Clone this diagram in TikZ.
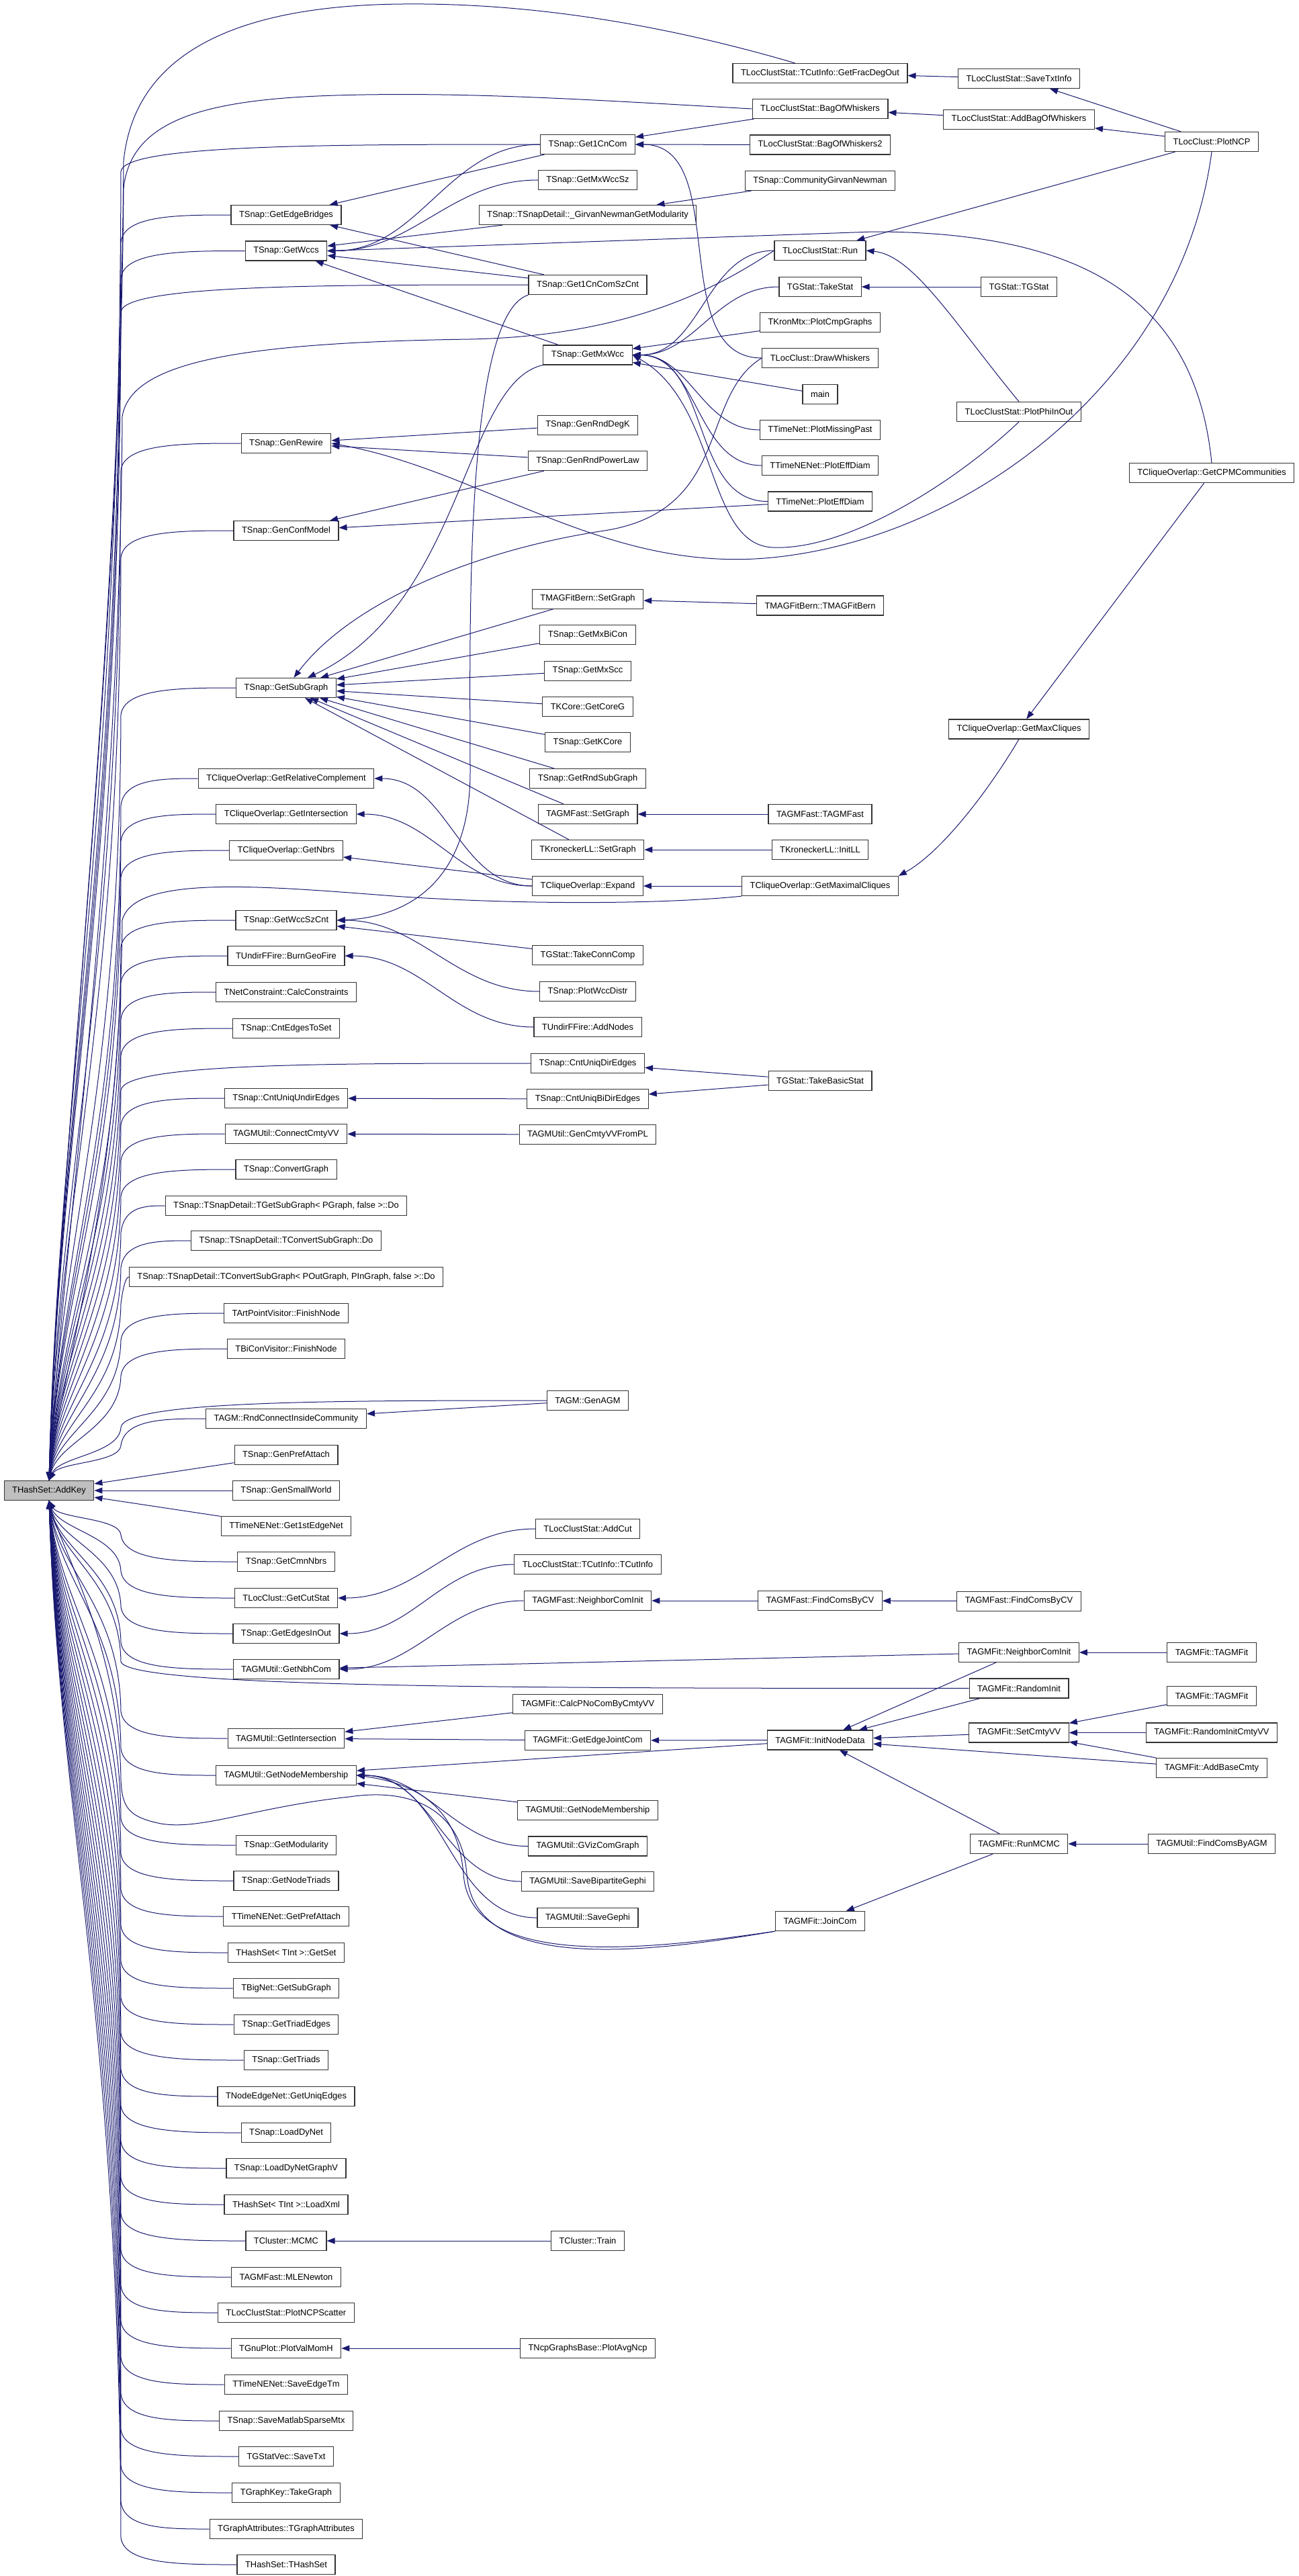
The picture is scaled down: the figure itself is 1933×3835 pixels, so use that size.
\documentclass[tikz,border=0pt]{standalone}
\usepackage{fontspec}
\setsansfont{Liberation Sans}
\usetikzlibrary{arrows.meta, calc}
\definecolor{callblue}{HTML}{191970}
\definecolor{rootgrey}{HTML}{BFBFBF}

\begin{document}
\begin{tikzpicture}[
    x=1pt, y=-1pt,
    font=\sffamily\fontsize{12.9}{14}\selectfont,
    fn/.style={
        draw=black!80,
        line width=1.2pt,
        fill=white,
        minimum height=29pt,
        inner xsep=12pt,
        inner ysep=0pt
    },
    rootfn/.style={fn, fill=rootgrey},
    call/.style={draw=callblue, line width=1pt, -{Triangle[length=12pt, width=9pt]}},
    fromabove/.style={to path={let \p1=(\tikztostart), \p2=(\tikztotarget) in
        .. controls ({0.5*\x1+95pt},\y1) and (185pt,\y1) .. (180pt,{\y1-40pt})
        .. controls (178pt,{0.5*\y1+0.5*\y2-20pt}) and ({\x2+15pt},{\y2+0.3*(\y1-\y2)}) .. (\tikztotarget) \tikztonodes}},
    frombelow/.style={to path={let \p1=(\tikztostart), \p2=(\tikztotarget) in
        .. controls ({0.5*\x1+95pt},\y1) and (185pt,\y1) .. (180pt,{\y1+40pt})
        .. controls (178pt,{0.5*\y1+0.5*\y2+20pt}) and ({\x2+15pt},{\y2+0.3*(\y1-\y2)}) .. (\tikztotarget) \tikztonodes}}
]
\useasboundingbox (0,0) rectangle (1933,3835);

% Root
\node[rootfn] (AddKey) at (73,2219) {THashSet::AddKey};

% Column 1
\node[fn] (EdgeBridges) at (426,320) {TSnap::GetEdgeBridges};
\node[fn] (Wccs) at (426,373.5) {TSnap::GetWccs};
\node[fn] (GenRewire) at (426,660) {TSnap::GenRewire};
\node[fn] (GenConfModel) at (426,790) {TSnap::GenConfModel};
\node[fn] (GetSubGraph) at (426,1024) {TSnap::GetSubGraph};
\node[fn] (RelComp) at (426,1159) {TCliqueOverlap::GetRelativeComplement};
\node[fn] (CliqueIsect) at (426,1212) {TCliqueOverlap::GetIntersection};
\node[fn] (CliqueNbrs) at (426,1266) {TCliqueOverlap::GetNbrs};
\node[fn] (WccSzCnt) at (426,1370) {TSnap::GetWccSzCnt};
\node[fn] (BurnGeoFire) at (426,1423) {TUndirFFire::BurnGeoFire};
\node[fn] (CalcConstr) at (426,1477) {TNetConstraint::CalcConstraints};
\node[fn] (CntEdgesToSet) at (426,1531) {TSnap::CntEdgesToSet};
\node[fn] (CntUniqUndir) at (426,1635) {TSnap::CntUniqUndirEdges};
\node[fn] (ConnectCmty) at (426,1688) {TAGMUtil::ConnectCmtyVV};
\node[fn] (ConvertGraph) at (426,1741) {TSnap::ConvertGraph};
\node[fn] (GetSubDo) at (426,1795) {TSnap::TSnapDetail::TGetSubGraph< PGraph, false >::Do};
\node[fn] (ConvDo) at (426,1847) {TSnap::TSnapDetail::TConvertSubGraph::Do};
\node[fn] (ConvDoPIn) at (426,1901) {TSnap::TSnapDetail::TConvertSubGraph< POutGraph, PInGraph, false >::Do};
\node[fn] (ArtPoint) at (426,1955) {TArtPointVisitor::FinishNode};
\node[fn] (BiCon) at (426,2008) {TBiConVisitor::FinishNode};
\node[fn] (RndConnect) at (426,2112) {TAGM::RndConnectInsideCommunity};
\node[fn] (GenPrefAttach) at (426,2166) {TSnap::GenPrefAttach};
\node[fn] (GenSmallWorld) at (426,2219) {TSnap::GenSmallWorld};
\node[fn] (FirstEdgeNet) at (426,2272) {TTimeNENet::Get1stEdgeNet};
\node[fn] (CmnNbrs) at (426,2325) {TSnap::GetCmnNbrs};
\node[fn] (CutStat) at (426,2379) {TLocClust::GetCutStat};
\node[fn] (EdgesInOut) at (426,2432) {TSnap::GetEdgesInOut};
\node[fn] (NbhCom) at (426,2485) {TAGMUtil::GetNbhCom};
\node[fn] (AgmIsect) at (426,2588) {TAGMUtil::GetIntersection};
\node[fn] (NodeMemb) at (426,2643) {TAGMUtil::GetNodeMembership};
\node[fn] (Modularity) at (426,2747) {TSnap::GetModularity};
\node[fn] (NodeTriads) at (426,2800) {TSnap::GetNodeTriads};
\node[fn] (TnPrefAttach) at (426,2853) {TTimeNENet::GetPrefAttach};
\node[fn] (GetSet) at (426,2907) {THashSet< TInt >::GetSet};
\node[fn] (BigNetSub) at (426,2960) {TBigNet::GetSubGraph};
\node[fn] (TriadEdges) at (426,3014) {TSnap::GetTriadEdges};
\node[fn] (Triads) at (426,3067) {TSnap::GetTriads};
\node[fn] (UniqEdges) at (426,3121) {TNodeEdgeNet::GetUniqEdges};
\node[fn] (LoadDyNet) at (426,3175) {TSnap::LoadDyNet};
\node[fn] (LoadDyNetGV) at (426,3228) {TSnap::LoadDyNetGraphV};
\node[fn] (LoadXml) at (426,3282) {THashSet< TInt >::LoadXml};
\node[fn] (McMc) at (426,3336) {TCluster::MCMC};
\node[fn] (MleNewton) at (426,3390) {TAGMFast::MLENewton};
\node[fn] (NcpScatter) at (426,3443) {TLocClustStat::PlotNCPScatter};
\node[fn] (ValMomH) at (426,3496) {TGnuPlot::PlotValMomH};
\node[fn] (SaveEdgeTm) at (426,3550) {TTimeNENet::SaveEdgeTm};
\node[fn] (SaveMatlab) at (426,3604) {TSnap::SaveMatlabSparseMtx};
\node[fn] (GStatVecSave) at (426,3657) {TGStatVec::SaveTxt};
\node[fn] (TakeGraph) at (426,3711) {TGraphKey::TakeGraph};
\node[fn] (GraphAttr) at (426,3765) {TGraphAttributes::TGraphAttributes};
\node[fn] (HashSetCtor) at (426,3818) {THashSet::THashSet};

% Column 2
\node[fn] (Get1CnCom) at (875,215) {TSnap::Get1CnCom};
\node[fn] (MxWccSz) at (875,268) {TSnap::GetMxWccSz};
\node[fn] (GnMod) at (875,320) {TSnap::TSnapDetail::\_GirvanNewmanGetModularity};
\node[fn] (Get1CnSzCnt) at (875,424) {TSnap::Get1CnComSzCnt};
\node[fn] (MxWcc) at (875,528.5) {TSnap::GetMxWcc};
\node[fn] (RndDegK) at (875,632.6) {TSnap::GenRndDegK};
\node[fn] (RndPowerLaw) at (875,686) {TSnap::GenRndPowerLaw};
\node[fn] (MagSetGraph) at (875,891.6) {TMAGFitBern::SetGraph};
\node[fn] (MxBiCon) at (875,945) {TSnap::GetMxBiCon};
\node[fn] (MxScc) at (875,998.6) {TSnap::GetMxScc};
\node[fn] (CoreG) at (875,1052) {TKCore::GetCoreG};
\node[fn] (KCore) at (875,1105) {TSnap::GetKCore};
\node[fn] (RndSubGraph) at (875,1159) {TSnap::GetRndSubGraph};
\node[fn] (AgmfSetGraph) at (875,1212) {TAGMFast::SetGraph};
\node[fn] (KronSetGraph) at (875,1265) {TKroneckerLL::SetGraph};
\node[fn] (Expand) at (875,1319) {TCliqueOverlap::Expand};
\node[fn] (TakeConnComp) at (875,1422) {TGStat::TakeConnComp};
\node[fn] (WccDistr) at (875,1476) {TSnap::PlotWccDistr};
\node[fn] (AddNodes) at (875,1529) {TUndirFFire::AddNodes};
\node[fn] (CntUniqDir) at (875,1583) {TSnap::CntUniqDirEdges};
\node[fn] (CntUniqBiDir) at (875,1636) {TSnap::CntUniqBiDirEdges};
\node[fn] (GenCmtyPL) at (875,1689) {TAGMUtil::GenCmtyVVFromPL};
\node[fn] (GenAGM) at (875,2085) {TAGM::GenAGM};
\node[fn] (AddCut) at (875,2276) {TLocClustStat::AddCut};
\node[fn] (CutInfo) at (875,2329) {TLocClustStat::TCutInfo::TCutInfo};
\node[fn] (AgmfNbrInit) at (875,2383) {TAGMFast::NeighborComInit};
\node[fn] (CalcPNoCom) at (875,2537) {TAGMFit::CalcPNoComByCmtyVV};
\node[fn] (EdgeJointCom) at (875,2591) {TAGMFit::GetEdgeJointCom};
\node[fn] (NodeMembB) at (875,2695) {TAGMUtil::GetNodeMembership};
\node[fn] (GVizCom) at (875,2748.5) {TAGMUtil::GVizComGraph};
\node[fn] (SaveBipGephi) at (875,2801) {TAGMUtil::SaveBipartiteGephi};
\node[fn] (SaveGephi) at (875,2855) {TAGMUtil::SaveGephi};
\node[fn] (ClusterTrain) at (875,3336) {TCluster::Train};
\node[fn] (PlotAvgNcp) at (875,3496) {TNcpGraphsBase::PlotAvgNcp};

% Column 3
\node[fn] (FracDegOut) at (1221,109) {TLocClustStat::TCutInfo::GetFracDegOut};
\node[fn] (BagWhiskers) at (1221,162) {TLocClustStat::BagOfWhiskers};
\node[fn] (BagWhiskers2) at (1221,215.5) {TLocClustStat::BagOfWhiskers2};
\node[fn] (CommGN) at (1221,269) {TSnap::CommunityGirvanNewman};
\node[fn] (LcsRun) at (1221,373) {TLocClustStat::Run};
\node[fn] (TakeStat) at (1221,427) {TGStat::TakeStat};
\node[fn] (PlotCmp) at (1221,480) {TKronMtx::PlotCmpGraphs};
\node[fn] (DrawWhiskers) at (1221,533) {TLocClust::DrawWhiskers};
\node[fn] (Main) at (1221,586.6) {main};
\node[fn] (MissingPast) at (1221,640) {TTimeNet::PlotMissingPast};
\node[fn] (TnEffDiam) at (1221,693) {TTimeNENet::PlotEffDiam};
\node[fn] (TEffDiam) at (1221,746.5) {TTimeNet::PlotEffDiam};
\node[fn] (MagBern) at (1221,901.4) {TMAGFitBern::TMAGFitBern};
\node[fn] (AgmfCtor) at (1221,1212) {TAGMFast::TAGMFast};
\node[fn] (InitLL) at (1221,1265) {TKroneckerLL::InitLL};
\node[fn] (MaximalCliques) at (1221,1319) {TCliqueOverlap::GetMaximalCliques};
\node[fn] (TakeBasicStat) at (1221,1609) {TGStat::TakeBasicStat};
\node[fn] (AgmfFindCvA) at (1221,2383) {TAGMFast::FindComsByCV};
\node[fn] (InitNodeData) at (1221,2590.5) {TAGMFit::InitNodeData};
\node[fn] (JoinCom) at (1221,2860) {TAGMFit::JoinCom};

% Column 4
\node[fn] (SaveTxtInfo) at (1517,117) {TLocClustStat::SaveTxtInfo};
\node[fn] (AddBagWhiskers) at (1517,177.6) {TLocClustStat::AddBagOfWhiskers};
\node[fn] (GStatCtor) at (1517,427) {TGStat::TGStat};
\node[fn] (PhiInOut) at (1517,613) {TLocClustStat::PlotPhiInOut};
\node[fn] (MaxCliques) at (1517,1085.5) {TCliqueOverlap::GetMaxCliques};
\node[fn] (AgmfFindCvB) at (1517,2383.6) {TAGMFast::FindComsByCV};
\node[fn] (FitNbrInit) at (1517,2460) {TAGMFit::NeighborComInit};
\node[fn] (RandomInit) at (1517,2513.4) {TAGMFit::RandomInit};
\node[fn] (SetCmtyVV) at (1517,2579.5) {TAGMFit::SetCmtyVV};
\node[fn] (RunMcmc) at (1517,2745) {TAGMFit::RunMCMC};

% Column 5
\node[fn] (PlotNcp) at (1804,211) {TLocClust::PlotNCP};
\node[fn] (CpmComm) at (1804,704) {TCliqueOverlap::GetCPMCommunities};
\node[fn] (FitCtorA) at (1804,2460) {TAGMFit::TAGMFit};
\node[fn] (FitCtorB) at (1804,2525) {TAGMFit::TAGMFit};
\node[fn] (RandomInitCV) at (1804,2579.5) {TAGMFit::RandomInitCmtyVV};
\node[fn] (AddBaseCmty) at (1804,2632) {TAGMFit::AddBaseCmty};
\node[fn] (FindComsAgm) at (1804,2745) {TAGMUtil::FindComsByAGM};

% Calls into THashSet::AddKey
\draw[call] ($(FracDegOut.north west)+(93,0)$) .. controls (1000,40) and (800,4) .. (600,6)
    .. controls (350,8) and (200,80) .. (184,240)
    .. controls (178,1000) and (88,1700) .. (AddKey.north);
\draw[call] (BagWhiskers.west) .. controls (900,150) and (700,136) .. (500,142)
    .. controls (300,148) and (195,180) .. (184,280)
    .. controls (178,1000) and (88,1700) .. (AddKey.north);
\draw[call] (Get1CnCom.west) to[fromabove] (AddKey.north);
\draw[call] (EdgeBridges.west) to[fromabove] (AddKey.north);
\draw[call] (Wccs.west) to[fromabove] (AddKey.north);
\draw[call] (Get1CnSzCnt.west) to[fromabove] (AddKey.north);
\draw[call] (LcsRun.west) .. controls (1080,420) and (950,500) .. (700,505)
    .. controls (350,510) and (195,540) .. (182,620)
    .. controls (178,1300) and (88,1900) .. (AddKey.north);
\draw[call] (GenRewire.west) to[fromabove] (AddKey.north);
\draw[call] (GenConfModel.west) to[fromabove] (AddKey.north);
\draw[call] (GetSubGraph.west) to[fromabove] (AddKey.north);
\draw[call] (RelComp.west) to[fromabove] (AddKey.north);
\draw[call] (CliqueIsect.west) to[fromabove] (AddKey.north);
\draw[call] (CliqueNbrs.west) to[fromabove] (AddKey.north);
\draw[call] (MaximalCliques.south west) .. controls (1000,1345) and (800,1348) .. (600,1335)
    .. controls (400,1320) and (200,1300) .. (182,1370)
    .. controls (178,1800) and (88,2050) .. (AddKey.north);
\draw[call] (WccSzCnt.west) to[fromabove] (AddKey.north);
\draw[call] (BurnGeoFire.west) to[fromabove] (AddKey.north);
\draw[call] (CalcConstr.west) to[fromabove] (AddKey.north);
\draw[call] (CntEdgesToSet.west) to[fromabove] (AddKey.north);
\draw[call] (CntUniqDir.west) to[fromabove] (AddKey.north);
\draw[call] (CntUniqUndir.west) to[fromabove] (AddKey.north);
\draw[call] (ConnectCmty.west) to[fromabove] (AddKey.north);
\draw[call] (ConvertGraph.west) to[fromabove] (AddKey.north);
\draw[call] (GetSubDo.west) to[fromabove] (AddKey.north);
\draw[call] (ConvDo.west) to[fromabove] (AddKey.north);
\draw[call] (ConvDoPIn.west) to[fromabove] (AddKey.north);
\draw[call] (ArtPoint.west) to[fromabove] (AddKey.north);
\draw[call] (BiCon.west) to[fromabove] (AddKey.north);
\draw[call] (GenAGM.west) to[fromabove] (AddKey.north);
\draw[call] (RndConnect.west) to[fromabove] (AddKey.north);
\draw[call] (GenPrefAttach) -- (AddKey);
\draw[call] (GenSmallWorld) -- (AddKey);
\draw[call] (FirstEdgeNet) -- (AddKey);
\draw[call] (CmnNbrs.west) to[frombelow] (AddKey.south);
\draw[call] (CutStat.west) to[frombelow] (AddKey.south);
\draw[call] (EdgesInOut.west) to[frombelow] (AddKey.south);
\draw[call] (NbhCom.west) to[frombelow] (AddKey.south);
\draw[call] (RandomInit.west) to[frombelow] (AddKey.south);
\draw[call] (AgmIsect.west) to[frombelow] (AddKey.south);
\draw[call] (NodeMemb.west) to[frombelow] (AddKey.south);
\draw[call] (JoinCom.south west) .. controls (950,2910) and (705,2935) .. (695,2790)
    .. controls (688,2700) and (620,2660) .. (520,2675)
    .. controls (380,2690) and (300,2725) .. (240,2715)
    .. controls (190,2705) and (182,2690) .. (180,2650)
    .. controls (178,2450) and (88,2300) .. (AddKey.south);
\draw[call] (Modularity.west) to[frombelow] (AddKey.south);
\draw[call] (NodeTriads.west) to[frombelow] (AddKey.south);
\draw[call] (TnPrefAttach.west) to[frombelow] (AddKey.south);
\draw[call] (GetSet.west) to[frombelow] (AddKey.south);
\draw[call] (BigNetSub.west) to[frombelow] (AddKey.south);
\draw[call] (TriadEdges.west) to[frombelow] (AddKey.south);
\draw[call] (Triads.west) to[frombelow] (AddKey.south);
\draw[call] (UniqEdges.west) to[frombelow] (AddKey.south);
\draw[call] (LoadDyNet.west) to[frombelow] (AddKey.south);
\draw[call] (LoadDyNetGV.west) to[frombelow] (AddKey.south);
\draw[call] (LoadXml.west) to[frombelow] (AddKey.south);
\draw[call] (McMc.west) to[frombelow] (AddKey.south);
\draw[call] (MleNewton.west) to[frombelow] (AddKey.south);
\draw[call] (NcpScatter.west) to[frombelow] (AddKey.south);
\draw[call] (ValMomH.west) to[frombelow] (AddKey.south);
\draw[call] (SaveEdgeTm.west) to[frombelow] (AddKey.south);
\draw[call] (SaveMatlab.west) to[frombelow] (AddKey.south);
\draw[call] (GStatVecSave.west) to[frombelow] (AddKey.south);
\draw[call] (TakeGraph.west) to[frombelow] (AddKey.south);
\draw[call] (GraphAttr.west) to[frombelow] (AddKey.south);
\draw[call] (HashSetCtor.west) to[frombelow] (AddKey.south);

% Calls into column 1
\draw[call] (Get1CnCom) -- (EdgeBridges);
\draw[call] (Get1CnSzCnt) -- (EdgeBridges);
\draw[call] (Get1CnCom.west) to[out=180, in=0] (Wccs.east);
\draw[call] (MxWccSz.west) to[out=180, in=0] (Wccs.east);
\draw[call] (GnMod) -- (Wccs);
\draw[call] (Get1CnSzCnt) -- (Wccs);
\draw[call] (MxWcc) -- (Wccs);
\draw[call] (CpmComm.north) .. controls (1780,450) and (1620,345) .. (1300,345) -- (Wccs.east);
\draw[call] (RndDegK) -- (GenRewire);
\draw[call] (RndPowerLaw) -- (GenRewire);
\draw[call] (PlotNcp.south) .. controls (1760,560) and (1450,800) .. (1150,830)
    .. controls (900,855) and (720,700) .. (GenRewire.east);
\draw[call] (RndPowerLaw) -- (GenConfModel);
\draw[call] (TEffDiam) -- (GenConfModel);
\draw[call] (MxWcc) .. controls (690,570) and (690,900) .. (GetSubGraph);
\draw[call] (DrawWhiskers.west) .. controls (1040,590) and (1090,760) .. (900,790)
    .. controls (700,820) and (520,900) .. (GetSubGraph);
\draw[call] (MagSetGraph) -- (GetSubGraph);
\draw[call] (MxBiCon) -- (GetSubGraph);
\draw[call] (MxScc) -- (GetSubGraph);
\draw[call] (CoreG) -- (GetSubGraph);
\draw[call] (KCore) -- (GetSubGraph);
\draw[call] (RndSubGraph) -- (GetSubGraph);
\draw[call] (AgmfSetGraph) -- (GetSubGraph);
\draw[call] (KronSetGraph) -- (GetSubGraph);
\draw[call] (Expand.west) to[out=180, in=0] (RelComp.east);
\draw[call] (Expand.west) to[out=180, in=0] (CliqueIsect.east);
\draw[call] (Expand) -- (CliqueNbrs);
\draw[call] (Get1CnSzCnt.south west) .. controls (690,470) and (700,950) .. (700,1150)
    .. controls (700,1300) and (620,1365) .. (WccSzCnt.east);
\draw[call] (TakeConnComp) -- (WccSzCnt);
\draw[call] (WccDistr.west) to[out=180, in=0] (WccSzCnt.east);
\draw[call] (AddNodes.west) to[out=180, in=0] (BurnGeoFire.east);
\draw[call] (CntUniqBiDir) -- (CntUniqUndir);
\draw[call] (GenCmtyPL) -- (ConnectCmty);
\draw[call] (GenAGM) -- (RndConnect);
\draw[call] (AddCut.west) to[out=180, in=0] (CutStat.east);
\draw[call] (CutInfo.west) to[out=180, in=0] (EdgesInOut.east);
\draw[call] (AgmfNbrInit.west) to[out=180, in=0] (NbhCom.east);
\draw[call] (FitNbrInit) -- (NbhCom);
\draw[call] (CalcPNoCom) -- (AgmIsect);
\draw[call] (EdgeJointCom) -- (AgmIsect);
\draw[call] (InitNodeData) -- (NodeMemb);
\draw[call] (NodeMembB) -- (NodeMemb);
\draw[call] (GVizCom.west) to[out=180, in=0] (NodeMemb.east);
\draw[call] (SaveBipGephi.west) to[out=180, in=0] (NodeMemb.east);
\draw[call] (SaveGephi.west) to[out=180, in=0] (NodeMemb.east);
\draw[call] (JoinCom.south west) .. controls (950,2905) and (700,2930) .. (690,2790)
    .. controls (682,2690) and (620,2655) .. (NodeMemb.east);
\draw[call] (ClusterTrain) -- (McMc);
\draw[call] (PlotAvgNcp) -- (ValMomH);

% Calls into column 2
\draw[call] (BagWhiskers) -- (Get1CnCom);
\draw[call] (BagWhiskers2) -- (Get1CnCom);
\draw[call] (DrawWhiskers.west) to[out=180, in=0] (Get1CnCom.east);
\draw[call] (CommGN) -- (GnMod);
\draw[call] (LcsRun.west) to[out=180, in=0] (MxWcc.east);
\draw[call] (TakeStat.west) to[out=180, in=0] (MxWcc.east);
\draw[call] (PlotCmp) -- (MxWcc);
\draw[call] (Main) -- (MxWcc);
\draw[call] (MissingPast.west) to[out=180, in=0] (MxWcc.east);
\draw[call] (TnEffDiam.west) to[out=180, in=0] (MxWcc.east);
\draw[call] (TEffDiam.west) to[out=180, in=0] (MxWcc.east);
\draw[call] (PhiInOut.south) .. controls (1420,720) and (1260,820) .. (1150,815)
    .. controls (1050,810) and (1070,600) .. (MxWcc.east);
\draw[call] (MagBern) -- (MagSetGraph);
\draw[call] (AgmfCtor) -- (AgmfSetGraph);
\draw[call] (InitLL) -- (KronSetGraph);
\draw[call] (MaximalCliques) -- (Expand);
\draw[call] (TakeBasicStat) -- (CntUniqDir);
\draw[call] (TakeBasicStat) -- (CntUniqBiDir);
\draw[call] (AgmfFindCvA) -- (AgmfNbrInit);
\draw[call] (InitNodeData) -- (EdgeJointCom);

% Calls into column 3
\draw[call] (SaveTxtInfo) -- (FracDegOut);
\draw[call] (AddBagWhiskers) -- (BagWhiskers);
\draw[call] (PlotNcp) -- (LcsRun);
\draw[call] (PhiInOut.north) .. controls (1420,480) and (1360,380) .. (LcsRun.east);
\draw[call] (GStatCtor) -- (TakeStat);
\draw[call] (MaxCliques.south) .. controls (1470,1180) and (1400,1270) .. (MaximalCliques.north east);
\draw[call] (AgmfFindCvB) -- (AgmfFindCvA);
\draw[call] (FitNbrInit) -- (InitNodeData);
\draw[call] (RandomInit) -- (InitNodeData);
\draw[call] (SetCmtyVV) -- (InitNodeData);
\draw[call] (AddBaseCmty) -- (InitNodeData);
\draw[call] (RunMcmc) -- (InitNodeData);
\draw[call] (RunMcmc) -- (JoinCom);

% Calls into column 4
\draw[call] (PlotNcp) -- (SaveTxtInfo);
\draw[call] (PlotNcp) -- (AddBagWhiskers);
\draw[call] (CpmComm) -- (MaxCliques);
\draw[call] (FitCtorA) -- (FitNbrInit);
\draw[call] (FitCtorB) -- (SetCmtyVV);
\draw[call] (RandomInitCV) -- (SetCmtyVV);
\draw[call] (AddBaseCmty) -- (SetCmtyVV);
\draw[call] (FindComsAgm) -- (RunMcmc);

\end{tikzpicture}
\end{document}
